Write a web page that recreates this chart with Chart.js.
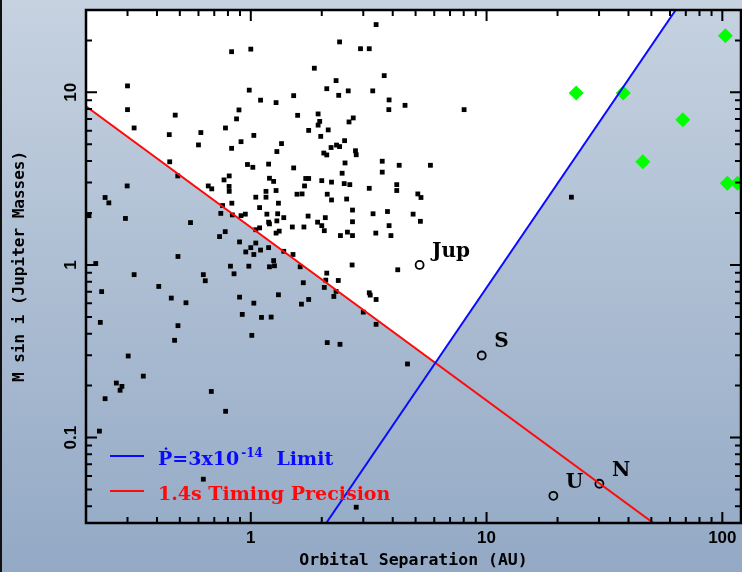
<!DOCTYPE html>
<html>
<head>
<meta charset="utf-8">
<script src="https://cdn.jsdelivr.net/npm/chart.js@4.4.1/dist/chart.umd.min.js"></script>
<style>
  html, body { margin: 0; padding: 0; background: #b2c2d6; }
  canvas { display: block; }
</style>
</head>
<body>
<canvas id="chart" width="742" height="572"></canvas>
<script>
'use strict';

// Known exoplanets: orbital separation (AU) and minimum mass (M_Jup)
const exoSep = [
    0.30, 0.30, 0.32, 0.478, 0.451, 0.614, 0.600, 0.829, 1.00, 0.985,
    1.10, 0.891, 0.870, 0.781, 1.03, 0.909, 0.829, 0.968, 1.02, 0.453,
    0.490, 0.660, 0.683, 0.770, 0.810, 0.809, 0.810, 0.299, 0.241, 0.250,
    0.206, 0.294, 0.555, 0.759, 0.831, 0.746, 0.835, 0.909, 0.948, 1.05,
    1.09, 1.05, 0.779, 0.737, 0.896, 0.952, 1.00, 1.03, 0.981, 0.820,
    0.849, 0.491, 0.320, 0.220, 0.629, 0.641, 0.407, 0.233, 0.460, 0.896,
    0.531, 0.230, 0.491, 0.475, 0.302, 0.350, 0.269, 0.284, 0.279, 0.241,
    0.680, 0.228, 0.782, 0.629,
    3.40, 2.38, 2.92, 3.18, 1.86, 3.68, 2.30, 2.10, 2.59, 3.29,
    2.36, 1.52, 1.28, 3.86, 3.85, 4.51, 1.58, 1.93, 1.96, 1.93,
    2.61, 2.72, 1.76, 2.13, 1.98, 1.35, 1.29, 2.50, 2.19, 2.31,
    2.38, 2.04, 2.10, 2.78, 2.80, 1.19, 1.52, 2.51, 3.61, 3.61,
    4.26, 5.78, 2.44, 1.20, 1.25, 1.71, 1.76, 1.69, 2.00, 2.20,
    2.49, 2.63, 3.18, 4.16, 4.16, 1.16, 1.28, 1.57, 1.65, 1.16,
    2.11, 2.55, 2.20, 5.11, 5.27, 8.03,
    1.17, 1.30, 1.38, 1.31, 1.29, 1.19, 1.20, 1.75, 2.07, 1.92,
    2.00, 2.05, 1.68, 1.50, 2.70, 2.70, 3.30, 3.80, 4.88, 5.24,
    3.86, 3.93, 3.39, 2.57, 2.40, 2.70, 1.09, 1.32, 1.28, 1.05,
    1.10, 1.19, 1.38, 1.51, 1.25, 1.26, 1.20, 1.62, 1.67, 1.31,
    1.64, 1.76, 1.03, 0.920, 1.11, 1.22, 1.01, 2.10, 2.08, 2.05,
    2.35, 2.25, 2.30, 2.69, 3.18, 3.21, 3.40, 3.00, 3.40, 2.11,
    2.39, 4.62, 4.20, 2.80, 22.9
];
const exoMass = [
    10.9, 7.94, 6.22, 7.38, 5.69, 5.85, 4.96, 17.2, 17.8, 10.3,
    9.01, 7.91, 7.02, 6.22, 5.63, 5.18, 4.74, 3.82, 3.68, 3.96,
    3.28, 2.87, 2.76, 3.11, 3.28, 2.85, 2.67, 2.87, 2.46, 2.29,
    1.93, 1.86, 1.76, 2.21, 2.28, 1.99, 1.95, 1.93, 1.97, 2.47,
    2.15, 1.60, 1.56, 1.46, 1.36, 1.19, 1.26, 1.15, 0.984, 0.984,
    0.889, 1.12, 0.879, 1.02, 0.879, 0.810, 0.751, 0.701, 0.643, 0.651,
    0.604, 0.465, 0.445, 0.366, 0.297, 0.227, 0.207, 0.198, 0.188, 0.168,
    0.185, 0.109, 0.142, 0.0574,
    24.7, 19.6, 17.9, 17.9, 13.8, 12.5, 11.7, 10.5, 10.2, 10.2,
    9.61, 9.57, 8.72, 9.04, 7.94, 8.41, 7.36, 7.50, 6.79, 6.46,
    6.74, 7.11, 6.02, 6.06, 5.56, 5.05, 4.54, 5.25, 4.79, 4.95,
    4.85, 4.45, 4.34, 4.59, 4.35, 3.84, 3.65, 3.90, 3.99, 3.45,
    3.78, 3.78, 3.40, 3.18, 3.05, 3.17, 3.17, 2.87, 3.08, 3.02,
    2.96, 2.92, 2.78, 2.92, 2.70, 2.67, 2.70, 2.57, 2.58, 2.47,
    2.57, 2.41, 2.38, 2.58, 2.46, 7.94,
    1.97, 1.98, 1.88, 2.28, 1.80, 1.77, 1.73, 1.92, 1.88, 1.77,
    1.69, 1.58, 1.66, 1.66, 2.08, 1.78, 1.98, 2.04, 1.97, 1.79,
    1.69, 1.48, 1.53, 1.55, 1.48, 1.48, 1.64, 1.57, 1.53, 1.34,
    1.22, 1.26, 1.20, 1.15, 1.06, 0.989, 0.976, 0.976, 0.789, 0.672,
    0.593, 0.631, 0.601, 0.517, 0.497, 0.499, 0.391, 0.897, 0.817, 0.741,
    0.813, 0.657, 0.703, 1.00, 0.690, 0.669, 0.631, 0.533, 0.453, 0.355,
    0.347, 0.267, 0.938, 0.0395, 2.47
];

// Wide-orbit companions (green diamonds)
const wideSep = [24.0, 38.0, 68.0, 46.0, 103, 105, 116];
const wideMass = [9.9, 9.9, 6.95, 3.96, 21.3, 2.97, 2.97];

// Solar system giants
const solarNames = ['Jup', 'S', 'U', 'N'];
const solarSep = [5.2, 9.54, 19.2, 30.1];
const solarMass = [1.0, 0.299, 0.046, 0.054];

// Detection limits, end points at the plot edges
const pdotSep = [2.09, 63.4];
const pdotMass = [0.032, 30];
const timingSep = [0.2, 51];
const timingMass = [8.3, 0.032];

// Region above both limits (left blank)
const allowedSep = [0.2, 63.4, 6.1, 0.2];
const allowedMass = [30, 30, 0.272, 8.3];

// Axis ticks
const xTicks = [0.3, 0.4, 0.5, 0.6, 0.7, 0.8, 0.9, 1, 2, 3, 4, 5, 6, 7, 8, 9,
    10, 20, 30, 40, 50, 60, 70, 80, 90, 100];
const xMajor = [1, 10, 100];
const xTickLabels = ['1', '10', '100'];
const yTicks = [0.04, 0.05, 0.06, 0.07, 0.08, 0.09, 0.1, 0.2, 0.3, 0.4, 0.5,
    0.6, 0.7, 0.8, 0.9, 1, 2, 3, 4, 5, 6, 7, 8, 9, 10, 20];
const yMajor = [0.1, 1, 10];
const yTickLabels = ['0.1', '1', '10'];

const pairs = (xs, ys) => xs.map((x, i) => ({x: x, y: ys[i]}));

const backdrop = {
    id: 'backdrop',
    beforeDraw(chart) {
        const {ctx, width, height} = chart;
        const g = ctx.createLinearGradient(0, 0, 0, height);
        g.addColorStop(0, '#c6d2e0');
        g.addColorStop(1, '#93a9c5');
        ctx.save();
        ctx.fillStyle = g;
        ctx.fillRect(0, 0, width, height);
        ctx.fillStyle = '#111';
        ctx.fillRect(0, 0, 2, height);
        ctx.restore();
    },
    beforeDatasetsDraw(chart) {
        const {ctx, chartArea: a, scales: {x, y}} = chart;
        ctx.save();
        ctx.beginPath();
        ctx.rect(a.left, a.top, a.right - a.left, a.bottom - a.top);
        ctx.clip();
        ctx.beginPath();
        allowedSep.forEach((s, i) => {
            const px = x.getPixelForValue(s);
            const py = y.getPixelForValue(allowedMass[i]);
            if (i === 0) ctx.moveTo(px, py); else ctx.lineTo(px, py);
        });
        ctx.closePath();
        ctx.fillStyle = '#fff';
        ctx.fill();
        ctx.restore();
    }
};

// draws text with ^{...} parts as superscripts
function drawRich(ctx, text, x, y, size) {
    const parts = text.split(/\^\{([^}]*)\}/);
    parts.forEach((part, i) => {
        if (i % 2) {
            ctx.font = 'bold ' + Math.round(size * 0.64) + 'px "DejaVu Serif"';
            x += 2;
            ctx.fillText(part, x, y - size * 0.4);
            x += ctx.measureText(part).width + 7;
        } else {
            ctx.font = 'bold ' + size + 'px "DejaVu Serif"';
            ctx.fillText(part, x, y);
            x += ctx.measureText(part).width;
        }
    });
    return x;
}

const frame = {
    id: 'frame',
    afterDatasetsDraw(chart) {
        const {ctx, chartArea: a, scales: {x, y}} = chart;
        ctx.save();
        ctx.strokeStyle = '#000';
        ctx.lineWidth = 2;
        ctx.beginPath();
        x.ticks.forEach(t => {
            const px = x.getPixelForValue(t.value);
            const len = xMajor.includes(t.value) ? 11 : 6;
            ctx.moveTo(px, a.bottom); ctx.lineTo(px, a.bottom - len);
            ctx.moveTo(px, a.top); ctx.lineTo(px, a.top + len);
        });
        y.ticks.forEach(t => {
            const py = y.getPixelForValue(t.value);
            const len = yMajor.includes(t.value) ? 11 : 6;
            ctx.moveTo(a.left, py); ctx.lineTo(a.left + len, py);
            ctx.moveTo(a.right, py); ctx.lineTo(a.right - len, py);
        });
        ctx.stroke();
        ctx.lineWidth = 2.5;
        ctx.strokeRect(a.left, a.top, a.right - a.left, a.bottom - a.top);

        // rotated y tick labels
        ctx.fillStyle = '#000';
        ctx.font = 'bold 17px "Liberation Sans"';
        ctx.textAlign = 'center';
        ctx.textBaseline = 'middle';
        yMajor.forEach((v, i) => {
            ctx.save();
            ctx.translate(71, y.getPixelForValue(v));
            ctx.rotate(-Math.PI / 2);
            ctx.fillText(yTickLabels[i], 0, 0);
            ctx.restore();
        });

        // planet names next to the open circles
        ctx.textAlign = 'left';
        ctx.textBaseline = 'alphabetic';
        ctx.font = 'bold 20px "DejaVu Serif"';
        solarNames.forEach((name, i) => {
            const px = x.getPixelForValue(solarSep[i]);
            const py = y.getPixelForValue(solarMass[i]);
            ctx.fillText(name, px + 12.5, py - 8);
        });

        // legend for the two limit lines
        const lines = chart.data.datasets.filter(d => d.showLine);
        lines.forEach((d, i) => {
            const ly = 456 + i * 35;
            ctx.strokeStyle = d.borderColor;
            ctx.lineWidth = 2;
            ctx.beginPath();
            ctx.moveTo(110, ly);
            ctx.lineTo(144, ly);
            ctx.stroke();
            ctx.fillStyle = d.borderColor;
            drawRich(ctx, d.label, 158, ly + 9, 19);
        });
        ctx.restore();
    }
};

const axisTitleFont = {family: 'DejaVu Sans Mono', weight: 'bold', size: 16};

new Chart(document.getElementById('chart'), {
    type: 'scatter',
    data: {
        datasets: [{
            label: 'Ṗ=3x10^{-14} Limit',
            data: pairs(pdotSep, pdotMass),
            showLine: true,
            borderColor: '#0a0aff',
            borderWidth: 2,
            pointRadius: 0,
            order: 0,
        }, {
            label: '1.4s Timing Precision',
            data: pairs(timingSep, timingMass),
            showLine: true,
            borderColor: '#ff0a0a',
            borderWidth: 2,
            pointRadius: 0,
            order: 0,
        }, {
            label: 'Exoplanets',
            data: pairs(exoSep, exoMass),
            pointStyle: 'rect',
            pointRadius: 3.4,
            pointBackgroundColor: '#000',
            pointBorderColor: '#000',
            pointBorderWidth: 0,
            order: 1,
        }, {
            label: 'Wide companions',
            data: pairs(wideSep, wideMass),
            pointStyle: 'rectRot',
            pointRadius: 7.5,
            pointBackgroundColor: '#00ff00',
            pointBorderColor: '#00ff00',
            pointBorderWidth: 0,
            order: 1,
        }, {
            label: 'Solar System',
            data: pairs(solarSep, solarMass),
            pointStyle: 'circle',
            pointRadius: 4,
            pointBackgroundColor: 'rgba(0,0,0,0)',
            pointBorderColor: '#000',
            pointBorderWidth: 1.8,
            order: 1,
        }]
    },
    options: {
        responsive: false,
        animation: false,
        devicePixelRatio: 1,
        layout: {
            autoPadding: false,
            padding: {top: 10, right: 1, left: 0, bottom: 0},
        },
        plugins: {
            legend: {display: false},
            tooltip: {enabled: false},
        },
        scales: {
            x: {
                type: 'logarithmic',
                min: 0.2,
                max: 120,
                grid: {display: false, drawTicks: false},
                border: {display: false},
                afterBuildTicks: (s) => { s.ticks = xTicks.map(v => ({value: v})); },
                afterFit: (s) => {
                    s.height = 49;
                    s.paddingLeft = 0;
                    s.paddingRight = 0;
                },
                ticks: {
                    autoSkip: false,
                    maxRotation: 0,
                    padding: 5,
                    color: '#000',
                    font: {family: 'Liberation Sans', weight: 'bold', size: 17},
                    callback: (v) => {
                        const i = xMajor.indexOf(v);
                        return i < 0 ? '' : xTickLabels[i];
                    },
                },
                title: {
                    display: true,
                    text: 'Orbital Separation (AU)',
                    color: '#000',
                    font: Object.assign({}, axisTitleFont, {size: 16.5}),
                    padding: {top: 0, bottom: 1},
                },
            },
            y: {
                type: 'logarithmic',
                min: 0.032,
                max: 30,
                grid: {display: false, drawTicks: false},
                border: {display: false},
                afterBuildTicks: (s) => { s.ticks = yTicks.map(v => ({value: v})); },
                afterFit: (s) => { s.width = 86; },
                ticks: {display: false},
                title: {
                    display: true,
                    text: 'M sin i (Jupiter Masses)',
                    color: '#000',
                    font: axisTitleFont,
                    padding: {top: 10, bottom: 0},
                },
            },
        },
    },
    plugins: [backdrop, frame],
});
</script>
</body>
</html>
